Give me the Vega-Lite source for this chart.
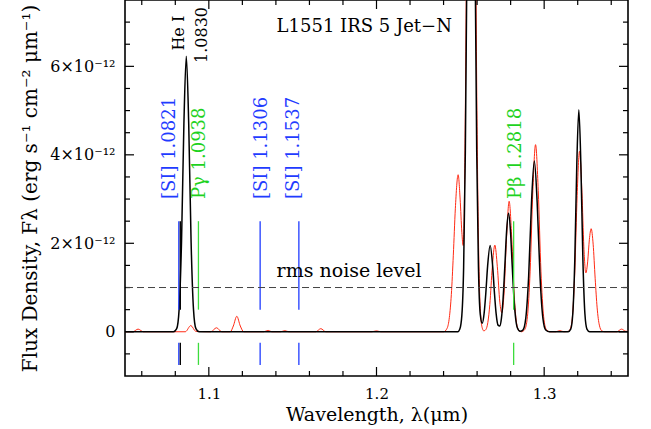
{
  "$schema": "https://vega.github.io/schema/vega-lite/v6.json",
  "width": 503,
  "height": 376,
  "autosize": {"type": "none"},
  "padding": {"left": 125, "top": 0, "right": 23, "bottom": 53},
  "background": "white",
  "config": {
    "view": {"stroke": "#000000", "strokeWidth": 1.6},
    "font": "DejaVu Serif",
    "axis": {"grid": false, "domain": false, "ticks": false, "labelFont": "DejaVu Serif", "titleFont": "DejaVu Serif", "labelColor": "#000000", "titleColor": "#000000", "titleFontWeight": "normal"}
  },
  "datasets": {
    "black": [
      {"wl": 1.05, "flux": 0}, {"wl": 1.07893, "flux": 0}, {"wl": 1.08084, "flux": 0.07}, {"wl": 1.08227, "flux": 0.5},
      {"wl": 1.0837, "flux": 2.02}, {"wl": 1.08513, "flux": 4.7}, {"wl": 1.08656, "flux": 6.23}, {"wl": 1.088, "flux": 4.7},
      {"wl": 1.08943, "flux": 2.02}, {"wl": 1.09086, "flux": 0.5}, {"wl": 1.09229, "flux": 0.07}, {"wl": 1.0942, "flux": 0},
      {"wl": 1.24851, "flux": 0}, {"wl": 1.2497, "flux": 0.06}, {"wl": 1.2509, "flux": 0.37}, {"wl": 1.25197, "flux": 1.46},
      {"wl": 1.25298, "flux": 4.05}, {"wl": 1.254, "flux": 8.63}, {"wl": 1.25507, "flux": 14.4}, {"wl": 1.25638, "flux": 18},
      {"wl": 1.25769, "flux": 14.4}, {"wl": 1.25877, "flux": 8.63}, {"wl": 1.25978, "flux": 4.05}, {"wl": 1.2608, "flux": 1.46},
      {"wl": 1.26187, "flux": 0.4}, {"wl": 1.26306, "flux": 0.19}, {"wl": 1.2642, "flux": 0.42}, {"wl": 1.26521, "flux": 0.88},
      {"wl": 1.26628, "flux": 1.49}, {"wl": 1.26778, "flux": 1.95}, {"wl": 1.26927, "flux": 1.49}, {"wl": 1.27034, "flux": 0.88},
      {"wl": 1.27135, "flux": 0.41}, {"wl": 1.27249, "flux": 0.15}, {"wl": 1.2735, "flux": 0.13}, {"wl": 1.27452, "flux": 0.31},
      {"wl": 1.27547, "flux": 0.73}, {"wl": 1.27654, "flux": 1.48}, {"wl": 1.27762, "flux": 2.29}, {"wl": 1.27875, "flux": 2.68},
      {"wl": 1.27988, "flux": 2.29}, {"wl": 1.28096, "flux": 1.48}, {"wl": 1.28203, "flux": 0.73}, {"wl": 1.28299, "flux": 0.3},
      {"wl": 1.284, "flux": 0.09}, {"wl": 1.28567, "flux": 0.01}, {"wl": 1.28734, "flux": 0.04}, {"wl": 1.28904, "flux": 0.31},
      {"wl": 1.29074, "flux": 1.25}, {"wl": 1.29244, "flux": 2.91}, {"wl": 1.29414, "flux": 3.86}, {"wl": 1.29584, "flux": 2.91},
      {"wl": 1.29754, "flux": 1.25}, {"wl": 1.29924, "flux": 0.31}, {"wl": 1.30094, "flux": 0.04}, {"wl": 1.30321, "flux": 0},
      {"wl": 1.31424, "flux": 0}, {"wl": 1.31585, "flux": 0.06}, {"wl": 1.31706, "flux": 0.4}, {"wl": 1.31827, "flux": 1.63},
      {"wl": 1.31947, "flux": 3.79}, {"wl": 1.32068, "flux": 5.02}, {"wl": 1.32189, "flux": 3.79}, {"wl": 1.3231, "flux": 1.63},
      {"wl": 1.32431, "flux": 0.4}, {"wl": 1.32551, "flux": 0.06}, {"wl": 1.32712, "flux": 0}, {"wl": 1.35, "flux": 0}
    ],
    "red": [
      {"wl": 1.05, "flux": 0}, {"wl": 1.05465, "flux": 0}, {"wl": 1.05781, "flux": 0.06}, {"wl": 1.06092, "flux": 0},
      {"wl": 1.07672, "flux": 0}, {"wl": 1.08597, "flux": 0}, {"wl": 1.08925, "flux": 0.14}, {"wl": 1.09223, "flux": 0.01},
      {"wl": 1.10118, "flux": 0}, {"wl": 1.10458, "flux": 0.09}, {"wl": 1.10774, "flux": 0}, {"wl": 1.11281, "flux": 0},
      {"wl": 1.1146, "flux": 0.13}, {"wl": 1.11669, "flux": 0.35}, {"wl": 1.11877, "flux": 0.13}, {"wl": 1.12086, "flux": 0},
      {"wl": 1.13279, "flux": 0}, {"wl": 1.13536, "flux": 0.03}, {"wl": 1.13756, "flux": 0}, {"wl": 1.14293, "flux": 0},
      {"wl": 1.14532, "flux": 0.025}, {"wl": 1.1477, "flux": 0}, {"wl": 1.16381, "flux": 0}, {"wl": 1.16679, "flux": 0.07},
      {"wl": 1.16977, "flux": 0}, {"wl": 1.19721, "flux": 0}, {"wl": 1.20001, "flux": 0.02}, {"wl": 1.20258, "flux": 0},
      {"wl": 1.24, "flux": 0}, {"wl": 1.24213, "flux": 0.08}, {"wl": 1.24344, "flux": 0.32}, {"wl": 1.24463, "flux": 0.84},
      {"wl": 1.24582, "flux": 1.73}, {"wl": 1.24702, "flux": 2.78}, {"wl": 1.24869, "flux": 3.55}, {"wl": 1.24988, "flux": 3.0},
      {"wl": 1.2509, "flux": 2.25}, {"wl": 1.25167, "flux": 1.95}, {"wl": 1.25239, "flux": 2.9}, {"wl": 1.25298, "flux": 5.0},
      {"wl": 1.25358, "flux": 7.9}, {"wl": 1.25447, "flux": 14}, {"wl": 1.25644, "flux": 25}, {"wl": 1.25841, "flux": 14},
      {"wl": 1.25931, "flux": 7.9}, {"wl": 1.2599, "flux": 5.0}, {"wl": 1.26062, "flux": 2.6}, {"wl": 1.26139, "flux": 1.06},
      {"wl": 1.26223, "flux": 0.33}, {"wl": 1.26312, "flux": 0.08}, {"wl": 1.26402, "flux": 0.02}, {"wl": 1.26521, "flux": 0.05},
      {"wl": 1.2664, "flux": 0.21}, {"wl": 1.2676, "flux": 0.62}, {"wl": 1.26909, "flux": 1.47}, {"wl": 1.27058, "flux": 1.96},
      {"wl": 1.27207, "flux": 1.47}, {"wl": 1.27356, "flux": 0.67}, {"wl": 1.27475, "flux": 0.43}, {"wl": 1.27595, "flux": 0.8},
      {"wl": 1.27756, "flux": 2.12}, {"wl": 1.27911, "flux": 2.95}, {"wl": 1.28066, "flux": 2.12}, {"wl": 1.28215, "flux": 0.83},
      {"wl": 1.28346, "flux": 0.22}, {"wl": 1.28489, "flux": 0.03}, {"wl": 1.28639, "flux": 0}, {"wl": 1.28841, "flux": 0.05},
      {"wl": 1.29002, "flux": 0.34}, {"wl": 1.29163, "flux": 1.37}, {"wl": 1.29325, "flux": 3.19}, {"wl": 1.29486, "flux": 4.23},
      {"wl": 1.29647, "flux": 3.19}, {"wl": 1.29808, "flux": 1.37}, {"wl": 1.29969, "flux": 0.34}, {"wl": 1.3013, "flux": 0.05},
      {"wl": 1.30338, "flux": 0}, {"wl": 1.30696, "flux": 0}, {"wl": 1.30935, "flux": 0.025}, {"wl": 1.31174, "flux": 0},
      {"wl": 1.31442, "flux": 0.01}, {"wl": 1.31579, "flux": 0.085}, {"wl": 1.31704, "flux": 0.43}, {"wl": 1.3183, "flux": 1.39},
      {"wl": 1.31967, "flux": 3.08}, {"wl": 1.3211, "flux": 4.08}, {"wl": 1.32253, "flux": 3.15}, {"wl": 1.32367, "flux": 1.92},
      {"wl": 1.32486, "flux": 1.33}, {"wl": 1.32593, "flux": 1.58}, {"wl": 1.32695, "flux": 2.08}, {"wl": 1.32802, "flux": 2.33},
      {"wl": 1.32921, "flux": 1.98}, {"wl": 1.33041, "flux": 1.21}, {"wl": 1.3316, "flux": 0.54}, {"wl": 1.33291, "flux": 0.15},
      {"wl": 1.3344, "flux": 0.02}, {"wl": 1.33619, "flux": 0}, {"wl": 1.34335, "flux": 0}, {"wl": 1.34615, "flux": 0.06},
      {"wl": 1.34872, "flux": 0.01}, {"wl": 1.35, "flux": 0.01}
    ],
    "lines": [
      {"ion": "[SI]", "wl": 1.0821, "name": "[SI]", "rest": "1.0821", "label": "[SI] 1.0821", "group": "a"},
      {"ion": "He I", "wl": 1.083, "name": "He I", "rest": "1.0830", "label": "He I 1.0830", "group": "he"},
      {"ion": "H", "wl": 1.0938, "name": "Pγ", "rest": "1.0938", "label": "Pγ 1.0938", "group": "b"},
      {"ion": "[SI]", "wl": 1.1306, "name": "[SI]", "rest": "1.1306", "label": "[SI] 1.1306", "group": "b"},
      {"ion": "[SI]", "wl": 1.1537, "name": "[SI]", "rest": "1.1537", "label": "[SI] 1.1537", "group": "c"},
      {"ion": "H", "wl": 1.2818, "name": "Pβ", "rest": "1.2818", "label": "Pβ 1.2818", "group": "b"}
    ],
    "xmajor": [{"v": 1.1}, {"v": 1.2}, {"v": 1.3}],
    "xminor": [{"v": 1.06}, {"v": 1.08}, {"v": 1.12}, {"v": 1.14}, {"v": 1.16}, {"v": 1.18}, {"v": 1.22}, {"v": 1.24}, {"v": 1.26}, {"v": 1.28}, {"v": 1.32}, {"v": 1.34}],
    "ymajor": [{"v": 0}, {"v": 2}, {"v": 4}, {"v": 6}],
    "yminor": [{"v": -0.5}, {"v": 0.5}, {"v": 1}, {"v": 1.5}, {"v": 2.5}, {"v": 3}, {"v": 3.5}, {"v": 4.5}, {"v": 5}, {"v": 5.5}, {"v": 6.5}, {"v": 7}]
  },
  "layer": [
    {
      "data": {"name": "red"},
      "mark": {"type": "line", "color": "#ff2a14", "strokeWidth": 1, "clip": true, "interpolate": "monotone"},
      "encoding": {
        "x": {"field": "wl", "type": "quantitative", "scale": {"domain": [1.05, 1.35], "nice": false, "zero": false},
              "axis": {"orient": "bottom", "values": [1.1, 1.2, 1.3], "labelFontSize": 15, "labelPadding": 10, "format": ".1f", "title": "Wavelength, λ(μm)", "titleFontSize": 19, "titlePadding": 4}},
        "y": {"field": "flux", "type": "quantitative", "scale": {"domain": [-1, 7.5], "nice": false, "zero": false},
              "axis": {"orient": "left", "values": [0, 2, 4, 6], "labelFontSize": 16, "labelPadding": 10, "labelExpr": "datum.value == 0 ? '0' : datum.value + '×10⁻¹²'", "title": "Flux Density, Fλ (erg s⁻¹ cm⁻² μm⁻¹)", "titleFontSize": 20, "titlePadding": 9}}
      }
    },
    {
      "data": {"name": "black"},
      "mark": {"type": "line", "color": "#000000", "strokeWidth": 1.5, "clip": true, "interpolate": "monotone"},
      "encoding": {
        "x": {"field": "wl", "type": "quantitative"},
        "y": {"field": "flux", "type": "quantitative"}
      }
    },
    {
      "data": {"name": "xmajor"},
      "mark": {"type": "rule", "color": "#000000", "strokeWidth": 1.2},
      "encoding": {"x": {"field": "v", "type": "quantitative"}, "y": {"datum": -1, "type": "quantitative"}, "y2": {"datum": -0.7965}}
    },
    {
      "data": {"name": "xmajor"},
      "mark": {"type": "rule", "color": "#000000", "strokeWidth": 1.2},
      "encoding": {"x": {"field": "v", "type": "quantitative"}, "y": {"datum": 7.5, "type": "quantitative"}, "y2": {"datum": 7.2965}}
    },
    {
      "data": {"name": "xminor"},
      "mark": {"type": "rule", "color": "#000000", "strokeWidth": 1.2},
      "encoding": {"x": {"field": "v", "type": "quantitative"}, "y": {"datum": -1, "type": "quantitative"}, "y2": {"datum": -0.887}}
    },
    {
      "data": {"name": "xminor"},
      "mark": {"type": "rule", "color": "#000000", "strokeWidth": 1.2},
      "encoding": {"x": {"field": "v", "type": "quantitative"}, "y": {"datum": 7.5, "type": "quantitative"}, "y2": {"datum": 7.387}}
    },
    {
      "data": {"name": "ymajor"},
      "mark": {"type": "rule", "color": "#000000", "strokeWidth": 1.2},
      "encoding": {"y": {"field": "v", "type": "quantitative"}, "x": {"datum": 1.05, "type": "quantitative"}, "x2": {"datum": 1.055368}}
    },
    {
      "data": {"name": "ymajor"},
      "mark": {"type": "rule", "color": "#000000", "strokeWidth": 1.2},
      "encoding": {"y": {"field": "v", "type": "quantitative"}, "x": {"datum": 1.35, "type": "quantitative"}, "x2": {"datum": 1.344632}}
    },
    {
      "data": {"name": "yminor"},
      "mark": {"type": "rule", "color": "#000000", "strokeWidth": 1.2},
      "encoding": {"y": {"field": "v", "type": "quantitative"}, "x": {"datum": 1.05, "type": "quantitative"}, "x2": {"datum": 1.052982}}
    },
    {
      "data": {"name": "yminor"},
      "mark": {"type": "rule", "color": "#000000", "strokeWidth": 1.2},
      "encoding": {"y": {"field": "v", "type": "quantitative"}, "x": {"datum": 1.35, "type": "quantitative"}, "x2": {"datum": 1.347018}}
    },
    {
      "data": {"name": "lines"},
      "mark": {"type": "rule", "strokeWidth": 1.3},
      "encoding": {
        "x": {"field": "wl", "type": "quantitative"},
        "y": {"datum": 0.5, "type": "quantitative"},
        "y2": {"datum": 2.5},
        "color": {"field": "ion", "type": "nominal", "scale": {"domain": ["[SI]", "He I", "H"], "range": ["#1f3cff", "#000000", "#3ddc3d"]}, "legend": null}
      }
    },
    {
      "data": {"name": "lines"},
      "mark": {"type": "rule", "strokeWidth": 1.3},
      "encoding": {
        "x": {"field": "wl", "type": "quantitative"},
        "y": {"datum": -0.75, "type": "quantitative"},
        "y2": {"datum": -0.25},
        "color": {"field": "ion", "type": "nominal", "legend": null}
      }
    },
    {
      "data": {"name": "lines"},
      "transform": [{"filter": "datum.group == 'b'"}],
      "mark": {"type": "text", "angle": 270, "align": "left", "baseline": "middle", "fontSize": 18, "dy": 2},
      "encoding": {
        "x": {"field": "wl", "type": "quantitative"},
        "y": {"datum": 3.0, "type": "quantitative"},
        "text": {"field": "label", "type": "nominal"},
        "fill": {"field": "ion", "type": "nominal", "scale": {"domain": ["[SI]", "He I", "H"], "range": ["#1f3cff", "#000000", "#1ed21e"]}, "legend": null}
      }
    },
    {
      "data": {"name": "lines"},
      "transform": [{"filter": "datum.group == 'a'"}],
      "mark": {"type": "text", "angle": 270, "align": "left", "baseline": "middle", "fontSize": 18, "dy": -9, "color": "#1f3cff"},
      "encoding": {
        "x": {"field": "wl", "type": "quantitative"},
        "y": {"datum": 3.0, "type": "quantitative"},
        "text": {"field": "label", "type": "nominal"}
      }
    },
    {
      "data": {"name": "lines"},
      "transform": [{"filter": "datum.group == 'c'"}],
      "mark": {"type": "text", "angle": 270, "align": "left", "baseline": "middle", "fontSize": 18, "dy": -5, "color": "#1f3cff"},
      "encoding": {
        "x": {"field": "wl", "type": "quantitative"},
        "y": {"datum": 3.0, "type": "quantitative"},
        "text": {"field": "label", "type": "nominal"}
      }
    },
    {
      "data": {"name": "lines"},
      "transform": [{"filter": "datum.group == 'he'"}],
      "mark": {"type": "text", "angle": 270, "align": "center", "baseline": "middle", "fontSize": 16, "dy": -1, "color": "#000000"},
      "encoding": {
        "x": {"field": "wl", "type": "quantitative"},
        "y": {"datum": 6.75, "type": "quantitative"},
        "text": {"field": "name", "type": "nominal"}
      }
    },
    {
      "data": {"name": "lines"},
      "transform": [{"filter": "datum.group == 'he'"}],
      "mark": {"type": "text", "angle": 270, "align": "center", "baseline": "middle", "fontSize": 16, "dy": 22, "color": "#000000"},
      "encoding": {
        "x": {"field": "wl", "type": "quantitative"},
        "y": {"datum": 6.71, "type": "quantitative"},
        "text": {"field": "rest", "type": "nominal"}
      }
    },
    {
      "data": {"values": [{"level": 1}]},
      "mark": {"type": "rule", "color": "#444444", "strokeWidth": 1, "strokeDash": [7, 4]},
      "encoding": {
        "y": {"field": "level", "type": "quantitative"}
      }
    },
    {
      "data": {"values": [{"label": "rms noise level"}]},
      "mark": {"type": "text", "align": "left", "baseline": "alphabetic", "fontSize": 19, "color": "#000000"},
      "encoding": {
        "x": {"datum": 1.1404, "type": "quantitative"},
        "y": {"datum": 1.24, "type": "quantitative"},
        "text": {"field": "label", "type": "nominal"}
      }
    },
    {
      "data": {"values": [{"label": "L1551 IRS 5 Jet−N"}]},
      "mark": {"type": "text", "align": "left", "baseline": "alphabetic", "fontSize": 18, "color": "#000000"},
      "encoding": {
        "x": {"datum": 1.1404, "type": "quantitative"},
        "y": {"datum": 6.78, "type": "quantitative"},
        "text": {"field": "label", "type": "nominal"}
      }
    }
  ]
}
